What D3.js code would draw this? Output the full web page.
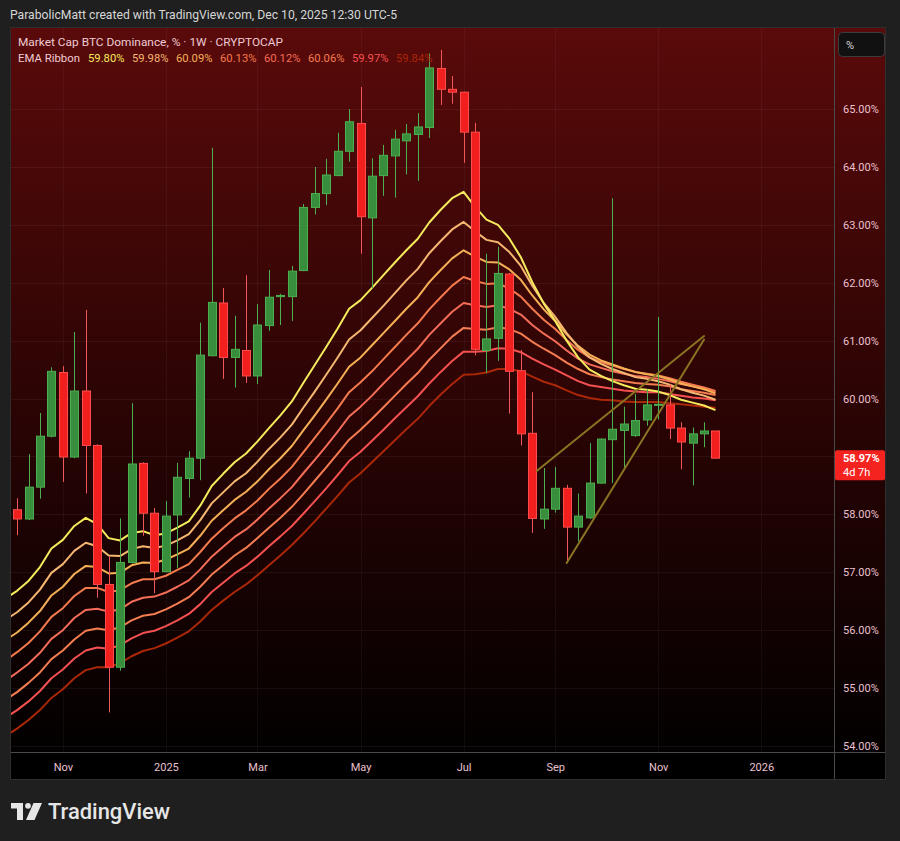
<!DOCTYPE html>
<html><head><meta charset="utf-8">
<script src="https://cdn.jsdelivr.net/npm/d3@7"></script>
<style>
html,body{margin:0;padding:0;background:#1f1f1f;}
svg{display:block;font-family:Roboto,"Liberation Sans",Arial,sans-serif;}
</style></head><body>
<svg id="chart" width="900" height="841"></svg>
<script>
// ---------- DATA ----------
const weeks = ["2024-10-07","2024-10-14","2024-10-21","2024-10-28","2024-11-04","2024-11-11","2024-11-18","2024-11-25",
"2024-12-02","2024-12-09","2024-12-16","2024-12-23","2024-12-30","2025-01-06","2025-01-13","2025-01-20","2025-01-27",
"2025-02-03","2025-02-10","2025-02-17","2025-02-24","2025-03-03","2025-03-10","2025-03-17","2025-03-24","2025-03-31",
"2025-04-07","2025-04-14","2025-04-21","2025-04-28","2025-05-05","2025-05-12","2025-05-19","2025-05-26","2025-06-02",
"2025-06-09","2025-06-16","2025-06-23","2025-06-30","2025-07-07","2025-07-14","2025-07-21","2025-07-28","2025-08-04",
"2025-08-11","2025-08-18","2025-08-25","2025-09-01","2025-09-08","2025-09-15","2025-09-22","2025-09-29","2025-10-06",
"2025-10-13","2025-10-20","2025-10-27","2025-11-03","2025-11-10","2025-11-17","2025-11-24","2025-12-01","2025-12-08"];

const opens = [58.08,57.92,58.47,59.35,60.45,58.99,60.13,59.19,56.79,55.36,
 57.17,58.88,58.02,57.01,57.99,58.62,58.97,60.74,61.65,60.71,
 60.83,60.39,61.26,61.76,61.76,62.21,63.30,63.54,63.85,64.27,
 64.75,63.12,63.85,64.19,64.45,64.56,64.68,65.70,65.34,65.29,
 64.60,60.83,61.04,62.15,60.48,59.40,57.92,58.09,58.45,57.78,
 57.94,58.54,59.29,59.45,59.36,59.63,59.90,59.89,59.49,59.23,
 59.39,59.44];
const highs = [58.28,59.04,59.75,60.54,60.56,61.15,61.53,59.21,57.28,57.93,
 59.92,58.90,58.11,58.23,58.89,59.09,61.31,64.33,61.91,61.43,
 62.13,61.63,62.22,61.81,62.29,63.36,64.00,64.14,64.59,65.00,
 65.38,64.15,64.38,64.64,64.74,64.93,65.96,66.02,65.57,65.30,
 64.76,62.50,62.62,62.17,60.84,60.11,58.80,58.82,58.51,58.36,
 59.23,59.31,63.46,59.86,60.08,60.16,61.41,60.24,59.59,59.50,
 59.59,59.44];
const lows = [57.64,57.90,58.27,59.33,58.56,58.97,58.36,56.56,54.58,55.30,
 57.15,57.63,56.64,57.00,57.07,58.29,58.59,60.73,60.34,60.19,
 60.27,60.25,61.17,61.27,61.34,62.20,63.18,63.34,63.84,64.09,
 62.50,61.90,63.50,63.47,63.87,63.76,64.50,65.07,65.09,64.07,
 60.75,60.44,60.65,59.74,59.19,57.68,57.75,58.03,57.16,57.53,
 57.92,58.53,58.54,58.78,59.34,59.53,59.64,59.30,58.78,58.50,
 59.16,58.97];
const closes = [57.92,58.47,59.35,60.47,58.99,60.13,59.19,56.79,55.36,57.17,
 58.87,58.02,57.01,57.97,58.64,58.97,60.75,61.66,60.71,60.85,
 60.39,61.27,61.75,61.78,62.20,63.30,63.54,63.86,64.27,64.78,
 63.14,63.84,64.20,64.48,64.57,64.69,65.71,65.34,65.29,64.60,
 60.85,61.03,62.16,60.47,59.39,57.93,58.09,58.45,57.78,57.97,
 58.54,59.30,59.47,59.56,59.62,59.89,59.90,59.49,59.25,59.39,
 59.44,58.97];

// EMA ribbon values: one value per week, starting one week before the first candle
const emaFirstWeek = "2024-09-30";
const ema20 = [56.55,56.68,56.85,57.09,57.41,57.56,57.80,57.94,57.83,57.59,57.55,57.68,57.71,57.64,57.67,57.77,57.88,58.15,58.49,58.70,58.90,59.05,59.26,59.49,59.71,59.95,60.27,60.58,60.89,61.21,61.55,61.70,61.91,62.13,62.35,62.56,62.76,63.04,63.26,63.46,63.57,63.31,63.09,63.00,62.76,62.44,62.01,61.64,61.34,61.00,60.71,60.50,60.39,60.30,60.23,60.17,60.15,60.12,60.06,59.98,59.93,59.88,59.80];
const ema25 = [56.18,56.31,56.48,56.70,56.99,57.14,57.37,57.51,57.45,57.29,57.28,57.40,57.45,57.42,57.46,57.55,57.66,57.90,58.19,58.38,58.57,58.71,58.91,59.13,59.33,59.55,59.84,60.12,60.41,60.71,61.02,61.18,61.39,61.60,61.82,62.04,62.24,62.51,62.72,62.92,63.05,62.89,62.74,62.70,62.53,62.29,61.95,61.65,61.41,61.13,60.89,60.71,60.60,60.51,60.44,60.37,60.34,60.30,60.24,60.16,60.10,60.05,59.98];
const ema30 = [55.83,55.96,56.13,56.33,56.60,56.75,56.97,57.11,57.09,56.98,56.99,57.12,57.17,57.16,57.22,57.31,57.41,57.63,57.89,58.07,58.25,58.39,58.57,58.78,58.97,59.18,59.45,59.71,59.98,60.26,60.55,60.71,60.92,61.13,61.34,61.55,61.75,62.01,62.22,62.42,62.56,62.45,62.36,62.35,62.23,62.05,61.78,61.54,61.34,61.11,60.91,60.76,60.66,60.59,60.52,60.46,60.42,60.39,60.33,60.26,60.21,60.16,60.09];
const ema35 = [55.48,55.62,55.78,55.98,56.23,56.38,56.59,56.73,56.73,56.66,56.69,56.81,56.88,56.88,56.94,57.04,57.14,57.35,57.58,57.76,57.93,58.07,58.24,58.44,58.62,58.82,59.07,59.32,59.57,59.83,60.11,60.28,60.47,60.68,60.89,61.10,61.30,61.54,61.75,61.95,62.10,62.03,61.98,61.99,61.90,61.76,61.55,61.36,61.20,61.01,60.84,60.71,60.63,60.57,60.51,60.46,60.43,60.40,60.35,60.29,60.24,60.19,60.13];
const ema40 = [55.13,55.27,55.42,55.61,55.85,56.00,56.21,56.35,56.37,56.32,56.36,56.49,56.56,56.58,56.65,56.75,56.86,57.05,57.27,57.44,57.61,57.74,57.91,58.10,58.28,58.47,58.71,58.94,59.18,59.43,59.69,59.86,60.05,60.26,60.46,60.66,60.86,61.10,61.30,61.50,61.65,61.61,61.58,61.61,61.55,61.45,61.27,61.12,60.99,60.83,60.69,60.59,60.53,60.47,60.43,60.39,60.37,60.34,60.30,60.25,60.21,60.17,60.12];
const ema45 = [54.80,54.93,55.09,55.27,55.50,55.65,55.84,55.99,56.03,56.00,56.05,56.17,56.25,56.28,56.36,56.46,56.57,56.75,56.96,57.12,57.29,57.42,57.59,57.77,57.94,58.13,58.35,58.58,58.81,59.05,59.29,59.46,59.65,59.85,60.05,60.25,60.44,60.67,60.87,61.07,61.22,61.20,61.19,61.23,61.20,61.12,60.98,60.86,60.75,60.62,60.51,60.42,60.37,60.33,60.30,60.27,60.25,60.24,60.21,60.16,60.13,60.10,60.06];
const ema50 = [54.49,54.62,54.77,54.95,55.17,55.32,55.51,55.65,55.70,55.68,55.74,55.86,55.95,55.99,56.07,56.17,56.28,56.45,56.66,56.82,56.98,57.11,57.27,57.45,57.62,57.80,58.01,58.23,58.45,58.68,58.92,59.08,59.27,59.46,59.66,59.85,60.04,60.26,60.46,60.65,60.81,60.81,60.82,60.87,60.86,60.80,60.69,60.59,60.50,60.40,60.30,60.23,60.20,60.17,60.14,60.12,60.11,60.11,60.08,60.05,60.02,60.00,59.97];
const ema55 = [54.17,54.30,54.45,54.62,54.83,54.98,55.17,55.31,55.36,55.36,55.43,55.55,55.64,55.69,55.77,55.87,55.98,56.15,56.35,56.51,56.66,56.79,56.95,57.12,57.29,57.47,57.67,57.88,58.10,58.32,58.55,58.71,58.90,59.09,59.28,59.47,59.65,59.87,60.07,60.25,60.41,60.42,60.45,60.51,60.51,60.47,60.38,60.29,60.23,60.14,60.06,60.01,59.98,59.97,59.95,59.94,59.94,59.94,59.92,59.90,59.88,59.86,59.84];

// rising-wedge drawing (time, value)
const wedgeUpper = [["2025-08-20T16:00Z",58.75],["2025-12-01T00:00Z",61.08]];
const wedgeLower = [["2025-09-08T00:00Z",57.16],["2025-12-01T00:00Z",61.02]];

const yTicks = [54,55,56,57,58,59,60,61,62,63,64,65];
const xTickDates = ["2024-11-04","2025-01-06","2025-03-03","2025-05-05","2025-07-07","2025-09-01","2025-11-03","2026-01-05"];
const xTickLabels = ["Nov","2025","Mar","May","Jul","Sep","Nov","2026"];
const lastPrice = 58.97;
const countdown = "4d 7h";

// ---------- STYLE / LAYOUT ----------
const emaColors = ["#f5eb5d","#f5b771","#f5b056","#f57b4e","#f56d58","#f57d51","#f55151","#aa2707"];
const plot = {left:10, top:27, right:834, bottom:752};
const panelRight = 886, panelBottom = 780;
const barStep = 11.45;

const svg = d3.select("#chart");
const parseD = d3.utcParse("%Y-%m-%d");
const dates = weeks.map(parseD);
const x = d3.scaleUtc()
  .domain([dates[0], dates[dates.length-1]])
  .range([plot.left + 7.05, plot.left + 7.05 + barStep*(dates.length-1)]);
const y = d3.scaleLinear().domain([54,65]).range([746,109]);

// defs
const defs = svg.append("defs");
const grad = defs.append("linearGradient").attr("id","bg").attr("gradientUnits","userSpaceOnUse")
  .attr("x1",0).attr("y1",plot.top).attr("x2",0).attr("y2",plot.bottom+20);
grad.append("stop").attr("offset",0).attr("stop-color","#5a0a0a");
grad.append("stop").attr("offset",0.5).attr("stop-color","#2c0404");
grad.append("stop").attr("offset",1).attr("stop-color","#000000");
defs.append("clipPath").attr("id","clip").append("rect")
  .attr("x",plot.left).attr("y",plot.top).attr("width",plot.right-plot.left).attr("height",plot.bottom-plot.top);

// page background + header
svg.append("rect").attr("width",900).attr("height",841).attr("fill","#1f1f1f");
svg.append("text").attr("x",10).attr("y",19).attr("fill","#d6d6d6").attr("font-size",13)
  .attr("textLength",387).attr("lengthAdjust","spacingAndGlyphs")
  .text("ParabolicMatt created with TradingView.com, Dec 10, 2025 12:30 UTC-5");

// panel backgrounds
svg.append("rect").attr("x",plot.left).attr("y",plot.top).attr("width",panelRight-plot.left)
  .attr("height",plot.bottom-plot.top).attr("fill","url(#bg)");
svg.append("rect").attr("x",plot.left).attr("y",plot.bottom).attr("width",panelRight-plot.left)
  .attr("height",panelBottom-plot.bottom).attr("fill","#000");

// grid
const grid = svg.append("g").attr("clip-path","url(#clip)");
grid.selectAll("line.h").data(yTicks).join("line")
  .attr("x1",plot.left).attr("x2",plot.right)
  .attr("y1",d=>Math.round(y(d))+0.5).attr("y2",d=>Math.round(y(d))+0.5)
  .attr("stroke","rgba(255,255,255,0.055)");
grid.selectAll("line.v").data(xTickDates).join("line")
  .attr("x1",d=>Math.round(x(parseD(d)))+0.5).attr("x2",d=>Math.round(x(parseD(d)))+0.5)
  .attr("y1",plot.top).attr("y2",plot.bottom)
  .attr("stroke","rgba(255,255,255,0.045)");

// EMA ribbon
const emaSeries = [ema20,ema25,ema30,ema35,ema40,ema45,ema50,ema55];
const emaStart = parseD(emaFirstWeek);
const emaDate = i => d3.utcDay.offset(emaStart, 7*i);
const lineGen = d3.line().x((d,i)=>x(emaDate(i))).y(d=>y(d));
const ribbon = svg.append("g").attr("clip-path","url(#clip)");
for (let k = emaSeries.length-1; k >= 0; k--) {
  ribbon.append("path").attr("d", lineGen(emaSeries[k])).attr("fill","none")
    .attr("stroke",emaColors[k]).attr("stroke-width",2).attr("stroke-linejoin","round");
}

// candles
const candles = dates.map((d,i)=>({d,o:opens[i],h:highs[i],l:lows[i],c:closes[i]}));
const cg = svg.append("g").attr("clip-path","url(#clip)");
const up = d => d.c >= d.o;
cg.selectAll("line.wick").data(candles).join("line")
  .attr("x1",d=>Math.round(x(d.d))+0.5).attr("x2",d=>Math.round(x(d.d))+0.5)
  .attr("y1",d=>y(d.h)).attr("y2",d=>y(d.l))
  .attr("stroke",d=>up(d)?"#4caf50":"#f25757").attr("stroke-width",1);
cg.selectAll("rect.body").data(candles).join("rect")
  .attr("x",d=>Math.round(x(d.d))-3.5).attr("width",8)
  .attr("y",d=>y(Math.max(d.o,d.c)))
  .attr("height",d=>Math.max(1,y(Math.min(d.o,d.c))-y(Math.max(d.o,d.c))))
  .attr("fill",d=>up(d)?"#388e3c":"#f21f1f")
  .attr("stroke",d=>up(d)?"#4caf50":"#ff4d4d").attr("stroke-width",1);

// wedge drawing
const wedgeGen = d3.line().x(d=>x(new Date(d[0]))).y(d=>y(d[1]));
const wg = svg.append("g").attr("clip-path","url(#clip)");
[wedgeUpper, wedgeLower].forEach(w=>{
  wg.append("path").attr("d",wedgeGen(w)).attr("fill","none")
    .attr("stroke","#8a7422").attr("stroke-width",2).attr("stroke-linecap","round");
});

// separators / frame
const frame = svg.append("g").attr("stroke","#4a4a4a").attr("stroke-width",1);
frame.append("line").attr("x1",plot.right+0.5).attr("x2",plot.right+0.5).attr("y1",plot.top).attr("y2",panelBottom);
frame.append("line").attr("x1",plot.left).attr("x2",panelRight).attr("y1",plot.bottom+0.5).attr("y2",plot.bottom+0.5);
frame.append("rect").attr("x",plot.left+0.5).attr("y",plot.top+0.5)
  .attr("width",panelRight-plot.left-1).attr("height",panelBottom-plot.top-1)
  .attr("fill","none").attr("stroke","#2e2e2e");

// price axis
const yAxis = d3.axisRight(y).tickValues(yTicks).tickSize(0).tickPadding(9)
  .tickFormat(d=>d3.format(".2f")(d)+"%");
const ya = svg.append("g").attr("transform",`translate(${plot.right},0)`).call(yAxis);
ya.select(".domain").remove();
ya.selectAll("text").attr("fill","#ebc0d0").attr("font-size",11).attr("font-family","Roboto, 'Liberation Sans', sans-serif");

// time axis
const xAxis = d3.axisBottom(x).tickValues(xTickDates.map(parseD)).tickSize(0).tickPadding(11)
  .tickFormat((d,i)=>xTickLabels[i]);
const xa = svg.append("g").attr("transform",`translate(0,${plot.bottom})`).call(xAxis);
xa.select(".domain").remove();
xa.selectAll("text").attr("fill","#ebc0d0").attr("font-size",11).attr("font-family","Roboto, 'Liberation Sans', sans-serif");

// % button
svg.append("rect").attr("x",838.5).attr("y",32.5).attr("width",46).attr("height",24).attr("rx",4)
  .attr("fill","#111").attr("stroke","#3c3c3c");
svg.append("text").attr("x",846).attr("y",48.5).attr("fill","#d8d8d8").attr("font-size",11).text("%");

// last price label
const ly = y(lastPrice);
svg.append("rect").attr("x",835).attr("y",ly-8).attr("width",50).attr("height",30).attr("rx",2).attr("fill","#f5231f");
svg.append("text").attr("x",843).attr("y",ly+4).attr("fill","#fff").attr("font-size",11).attr("font-weight","bold")
  .text(d3.format(".2f")(lastPrice)+"%");
svg.append("text").attr("x",843).attr("y",ly+18).attr("fill","#fff").attr("font-size",11).text(countdown);

// legend
const lg = svg.append("g").attr("font-size",11.5);
lg.append("text").attr("x",18).attr("y",46).attr("fill","#f0cad4")
  .attr("textLength",265).attr("lengthAdjust","spacingAndGlyphs")
  .text("Market Cap BTC Dominance, % · 1W · CRYPTOCAP");
lg.append("text").attr("x",18).attr("y",62).attr("fill","#f0cad4")
  .attr("textLength",62).attr("lengthAdjust","spacingAndGlyphs").text("EMA Ribbon");
emaSeries.forEach((s,k)=>{
  lg.append("text").attr("x",88+44*k).attr("y",62).attr("fill",emaColors[k])
    .attr("textLength",36.5).attr("lengthAdjust","spacingAndGlyphs")
    .text(d3.format(".2f")(s[s.length-1])+"%");
});

// TradingView logo
const logo = svg.append("g").attr("fill","#e6e6e6");
logo.append("path").attr("d","M11,803 H23 V820 H17 V808.5 H11 Z");
logo.append("circle").attr("cx",28).attr("cy",805.8).attr("r",2.9);
logo.append("path").attr("d","M33.5,803 H42 L34.5,820 H26 Z");
logo.append("text").attr("x",48).attr("y",819).attr("font-size",22).attr("font-weight",500)
  .attr("textLength",122).attr("lengthAdjust","spacingAndGlyphs").text("TradingView");
</script>
</body></html>
